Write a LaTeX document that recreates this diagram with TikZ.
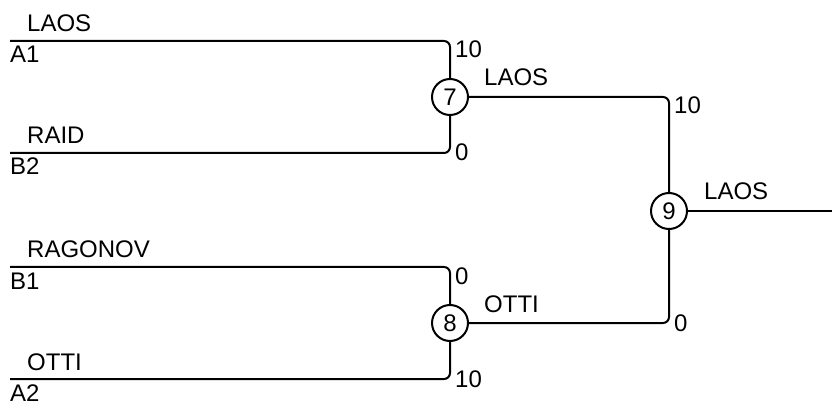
\documentclass[tikz,border=0pt]{standalone}
\usepackage{fontspec}
\setmainfont{Liberation Sans}
\usetikzlibrary{positioning}
\tikzset{
  match/.style={draw,circle,fill=white,line width=2pt,minimum size=36pt,inner sep=0pt},
  player/.style={anchor=base west,inner sep=0pt},
  score/.style={anchor=base west,inner sep=0pt},
  bracket/.style={line width=2pt,rounded corners=6pt}
}
\begin{document}
\begin{tikzpicture}[x=1pt,y=-1pt,font=\fontsize{24}{28}\selectfont]
\useasboundingbox (0,0) rectangle (832,403);
% matches
\node [match] (m7) at (450,97) {7};
\node [match] (m8) at (450,323) {8};
\node [match] (m9) at (669,211) {9};

% entry lines
\coordinate (a1) at (10,41);
\coordinate (b2) at (10,153);
\coordinate (b1) at (10,267);
\coordinate (a2) at (10,379);
\coordinate (final) at (832,211);

\draw[bracket] (a1) -| (m7);
\draw[bracket] (b2) -| (m7);
\draw[bracket] (b1) -| (m8);
\draw[bracket] (a2) -| (m8);
\draw[bracket] (m7) -| (m9);
\draw[bracket] (m8) -| (m9);
\draw[bracket] (m9) -- (final);

% players and seeds
\node [player] at ([xshift=17pt,yshift=9pt]a1) {LAOS};
\node [player] at ([yshift=-22pt]a1) {A1};
\node [player] at ([xshift=17pt,yshift=9pt]b2) {RAID};
\node [player] at ([yshift=-22pt]b2) {B2};
\node [player] at ([xshift=17pt,yshift=9pt]b1) {RAGONOV};
\node [player] at ([yshift=-22pt]b1) {B1};
\node [player] at ([xshift=17pt,yshift=9pt]a2) {OTTI};
\node [player] at ([yshift=-22pt]a2) {A2};

% winners
\node [player] at ([xshift=34pt,yshift=11pt]m7.center) {LAOS};
\node [player] at ([xshift=34pt,yshift=11pt]m8.center) {OTTI};
\node [player] at ([xshift=35pt,yshift=11pt]m9.center) {LAOS};

% scores
\node [score] at ([xshift=5pt,yshift=-17pt]m7 |- a1) {10};
\node [score] at ([xshift=5pt,yshift=-8pt]m7 |- b2) {0};
\node [score] at ([xshift=5pt,yshift=-17pt]m8 |- b1) {0};
\node [score] at ([xshift=5pt,yshift=-8pt]m8 |- a2) {10};
\node [score] at ([xshift=5pt,yshift=-17pt]m9 |- m7) {10};
\node [score] at ([xshift=5pt,yshift=-8pt]m9 |- m8) {0};
\end{tikzpicture}
\end{document}
